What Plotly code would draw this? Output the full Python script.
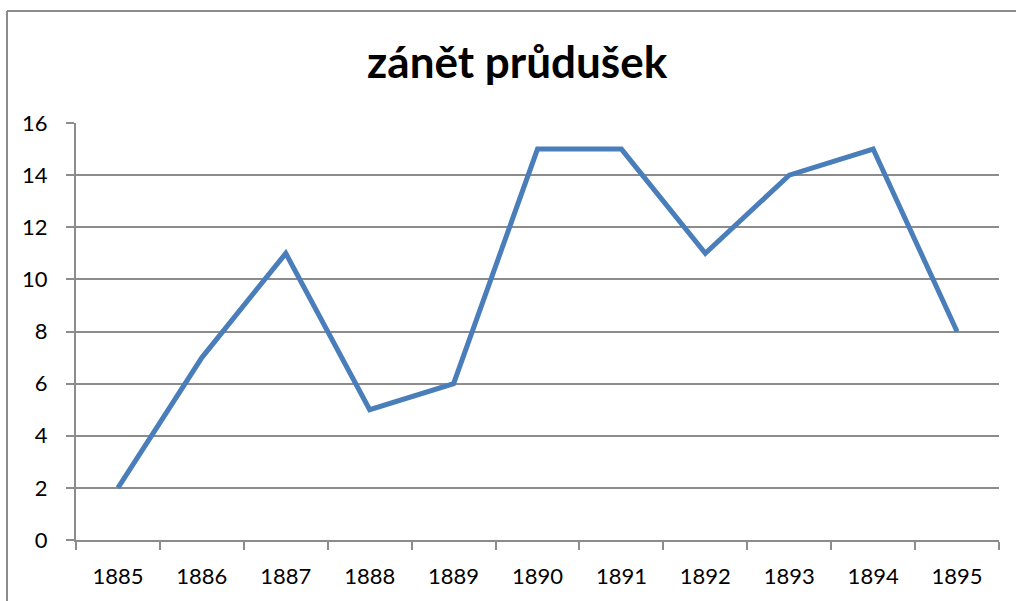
import plotly.graph_objects as go

years = ["1885", "1886", "1887", "1888", "1889", "1890", "1891", "1892", "1893", "1894", "1895"]
values = [2, 7, 11, 5, 6, 15, 15, 11, 14, 15, 8]
y_ticks = [0, 2, 4, 6, 8, 10, 12, 14, 16]

W, H = 1016, 601
L, R, T, B = 76, 17, 123, 61
pw, ph = W - L - R, H - T - B
grid = "#8c8c8c"

fig = go.Figure(go.Scatter(
    x=years, y=values, mode="lines",
    line=dict(color="#4a7ebb", width=5),
    hoverinfo="x+y",
))

# outer chart frame (left and top edges)
fx = (7 - L) / pw
fy = 1 + (T - 11) / ph
fig.add_shape(type="line", xref="paper", yref="paper", x0=fx, x1=fx, y0=-0.5, y1=fy,
              line=dict(color=grid, width=2))
fig.add_shape(type="line", xref="paper", yref="paper", x0=fx, x1=1.2, y0=fy, y1=fy,
              line=dict(color=grid, width=2))

fig.update_layout(
    width=W, height=H,
    margin=dict(l=L, r=R, t=T, b=B),
    paper_bgcolor="white", plot_bgcolor="white",
    showlegend=False,
    font=dict(family="Lato, Open Sans, sans-serif", size=22, color="black"),
    title=dict(text="<b>zánět průdušek</b>", x=0.509, xanchor="center",
               y=1 - 63 / H, yanchor="middle",
               font=dict(size=44, color="black")),
    xaxis=dict(type="category", range=[-0.5, 10.5], tickson="boundaries",
               ticks="outside", ticklen=8, tickwidth=2, tickcolor=grid,
               showline=True, linecolor=grid, linewidth=2,
               showgrid=False, ticklabelstandoff=16),
    yaxis=dict(range=[0, 16], tickvals=y_ticks,
               ticks="outside", ticklen=8, tickwidth=2, tickcolor=grid,
               showline=True, linecolor=grid, linewidth=2,
               showgrid=True, gridcolor=grid, gridwidth=2,
               zeroline=False, ticklabelstandoff=14),
)

fig.write_html("out.html")
